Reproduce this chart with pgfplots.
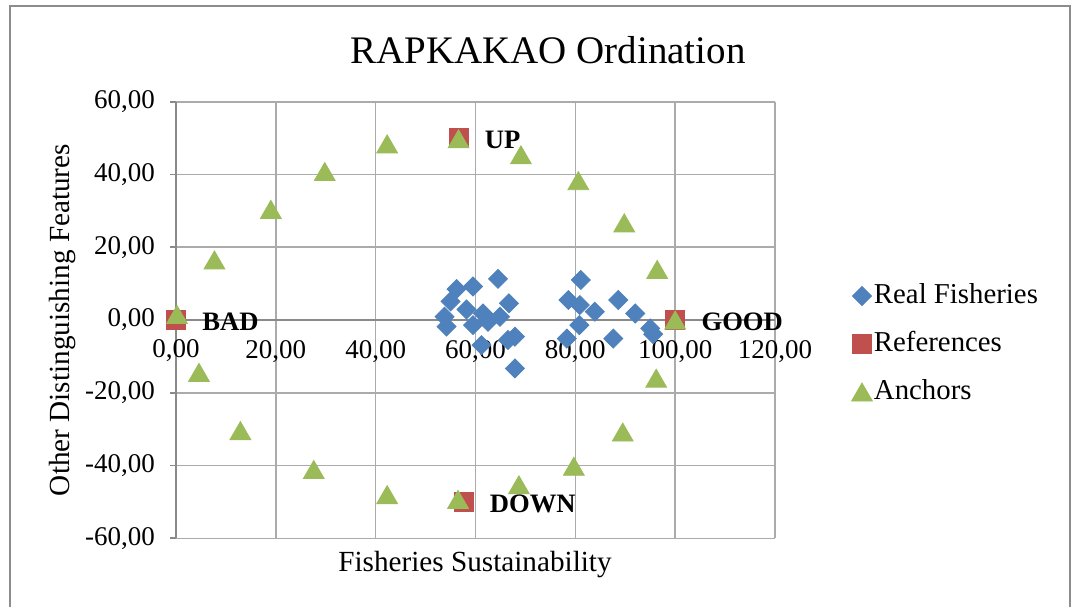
\documentclass[border=0pt]{standalone}
\usepackage{fontspec}
\setmainfont{Liberation Serif}
\usepackage{pgfplots}
\usepackage{pgfplotstable}
\pgfplotsset{compat=1.18}
\definecolor{cblue}{HTML}{4F81BD}
\definecolor{cred}{HTML}{C0504D}
\definecolor{cgreen}{HTML}{9BBB59}
\definecolor{cgrid}{HTML}{ABABAB}
\definecolor{caxis}{HTML}{8A8A8A}
\definecolor{cframe}{HTML}{8C8C8C}

\pgfplotstableread{
x y
64.5 11.3
56.2 8.5
59.5 9.2
55.0 5.1
66.7 4.6
58.2 2.9
53.8 0.9
61.5 1.8
64.9 0.9
54.2 -1.8
59.5 -1.4
62.5 -0.5
61.2 -6.9
66.5 -5.5
67.9 -4.6
67.9 -13.3
81.1 11.0
78.6 5.5
80.9 4.1
83.9 2.3
88.6 5.5
92.0 1.8
80.8 -1.4
78.3 -5.1
87.6 -5.1
95.0 -2.3
95.6 -3.9
}\realdata

\pgfplotstableread{
x y label
0 0 BAD
56.6 50 UP
100 0 GOOD
57.6 -50 DOWN
}\refdata

\pgfplotstableread{
x y
0.2 1.5
4.6 -14.4
7.7 16.5
12.9 -30.4
19.0 30.4
27.6 -41.1
29.8 40.8
42.3 48.4
42.3 -48.0
56.6 49.8
56.5 -49.3
69.1 45.4
68.7 -45.3
80.6 38.3
79.7 -40.2
89.8 26.7
89.5 -30.8
96.4 13.9
96.2 -16.0
100 0
}\anchordata

\begin{document}
\begin{tikzpicture}
\useasboundingbox (0,0) rectangle (538pt,-303pt);
\fill[white] (0,0) rectangle (538pt,-303pt);
\draw[cframe, line width=0.9pt] (5pt,-3pt) rectangle (535pt,-330pt);
\begin{axis}[
  scale only axis, width=299.5pt, height=218.3pt,
  at={(88pt,-50.85pt)}, anchor=north west,
  xmin=0, xmax=120, ymin=-60, ymax=60,
  axis x line=middle, axis y line=left,
  axis line style={-, caxis, line width=0.9pt},
  x axis line style={-}, y axis line style={-},
  grid=major, major grid style={cgrid, line width=0.8pt},
  xtick={0,20,...,120}, ytick={-60,-40,...,60},
  xticklabels={{0,00},{20,00},{40,00},{60,00},{80,00},{100,00},{120,00}},
  yticklabels={{-60,00},{-40,00},{-20,00},{0,00},{20,00},{40,00},{60,00}},
  tick label style={font=\fontsize{13.5}{16}\selectfont},
  xticklabel style={anchor=base, yshift=-16.35pt},
  yticklabel style={xshift=-4pt},
  x tick style={draw=none},
  y tick style={caxis, line width=0.9pt},
  tick align=outside, major tick length=3pt,
  clip=false,
  legend style={at={(1.1252,0.445)}, anchor=west, draw=none, fill=none,
    inner sep=0pt, outer sep=0pt,
    font=\fontsize{14.4}{17}\selectfont,
    nodes={inner sep=0pt, text height=10pt, text depth=3pt},
    row sep=11pt,
    /tikz/every even column/.append style={column sep=2.5pt}},
  legend cell align=left,
  legend image code/.code={\path[draw=none, fill=none] (-6pt,-5pt) rectangle (6pt,5pt); \draw[#1] plot coordinates {(0pt,0pt)};},
]
\addplot[only marks, mark=square*, mark size=3.36pt, mark options={rotate=45, fill=cblue, draw=cblue}] table[x=x,y=y] {\realdata};
\addlegendentry{Real Fisheries}
\addplot[only marks, mark=square*, mark size=4.75pt, mark options={fill=cred, draw=cred}] table[x=x,y=y] {\refdata};
\addlegendentry{References}
\addplot[only marks, mark=triangle*, mark size=6pt, mark options={fill=cgreen, draw=cgreen, yshift=-1.5pt}] table[x=x,y=y] {\anchordata};
\addlegendentry{Anchors}
\addplot[draw=none, forget plot, nodes near coords, point meta=explicit symbolic,
  every node near coord/.style={anchor=west, xshift=13pt, yshift=-1pt, inner sep=0pt, text=black, font=\fontsize{13.3}{16}\selectfont\bfseries}]
  table[x=x,y=y,meta=label] {\refdata};
\node[anchor=base, inner sep=0pt, font=\fontsize{13.5}{16}\selectfont, yshift=-18.85pt] at (axis cs:0,0) {0,00};
\end{axis}
\node[font=\fontsize{19.5}{23}\selectfont] at (274pt,-25pt) {RAPKAKAO Ordination};
\node[font=\fontsize{14.6}{17}\selectfont, anchor=base] at (237.5pt,-285.5pt) {Fisheries Sustainability};
\node[font=\fontsize{14.6}{17}\selectfont, anchor=base, rotate=90] at (34.5pt,-160pt) {Other Distinguishing Features};
\end{tikzpicture}
\end{document}
